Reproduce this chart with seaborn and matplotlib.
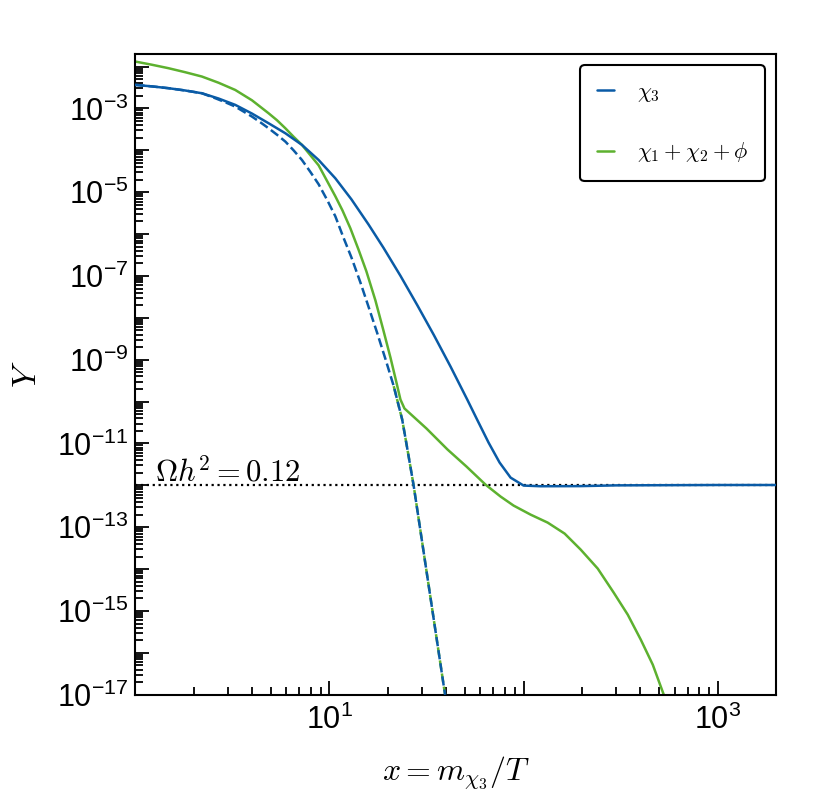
import numpy as np
import matplotlib
matplotlib.use("Agg")
import matplotlib.pyplot as plt
import matplotlib.ticker as ticker
import seaborn as sns

# values (x = m_chi3 / T, Y)
chi3_x = [1.0, 1.216, 1.482, 1.806, 2.203, 2.684, 3.272, 3.99, 4.86, 5.93, 7.22, 8.80,
          10.73, 12.98, 15.89, 18.98, 23.23, 28.33, 34.50, 42.06, 51.30, 57.98, 66.07,
          75.29, 85.80, 100.1, 122.5, 197, 300, 1000, 2000]
chi3_y = [3.66e-3, 3.37e-3, 3.05e-3, 2.69e-3, 2.31e-3, 1.73e-3, 1.22e-3, 7.57e-4, 4.44e-4,
          2.56e-4, 1.35e-4, 5.89e-5, 2.15e-5, 6.78e-6, 1.71e-6, 4.74e-7, 1.01e-7, 2.03e-8,
          3.91e-9, 6.90e-10, 1.12e-10, 3.54e-11, 1.05e-11, 3.51e-12, 1.53e-12, 9.89e-13,
          9.53e-13, 9.6e-13, 1.0e-12, 1.02e-12, 1.02e-12]

chi3_eq_x = [1.0, 1.216, 1.482, 1.806, 2.203, 2.58, 2.906, 3.272, 3.99, 4.404, 4.86, 5.37,
             5.93, 6.54, 7.22, 7.97, 8.80, 9.76, 10.73, 11.80, 12.98, 14.44, 15.89, 17.61,
             19.44, 21.45, 23.71, 25.40, 27.20, 30.63, 34.50, 38.86, 39.46]
chi3_eq_y = [3.66e-3, 3.37e-3, 3.05e-3, 2.69e-3, 2.31e-3, 1.76e-3, 1.41e-3, 1.11e-3,
             6.41e-4, 4.69e-4, 3.37e-4, 2.36e-4, 1.62e-4, 1.0e-4, 5.89e-5, 3.08e-5, 1.55e-5,
             6.41e-6, 2.66e-6, 8.38e-7, 2.79e-7, 7.03e-8, 1.87e-8, 4.42e-9, 1.04e-9,
             2.34e-10, 3.74e-11, 6.08e-12, 9.53e-13, 2.44e-14, 6.21e-16, 1.58e-17, 1.0e-17]

rest_x = [1.0, 1.216, 1.482, 1.806, 2.203, 2.684, 3.272, 3.99, 4.86, 5.37, 5.93, 6.54,
          7.22, 8.80, 10.73, 11.67, 12.83, 14.11, 15.51, 17.26, 18.98, 20.63, 22.15, 23.23,
          24.36, 31.63, 40.60, 50.86, 63.74, 76.2, 88.9, 108.8, 133.2, 162.9, 197.1,
          241.2, 291.6, 344.4, 401.9, 463.5, 528.0]
rest_y = [1.32e-2, 1.109e-2, 9.16e-3, 7.35e-3, 5.79e-3, 4.12e-3, 2.77e-3, 1.57e-3,
          7.69e-4, 5.24e-4, 3.37e-4, 2.11e-4, 1.35e-4, 4.39e-5, 8.0e-6, 3.70e-6, 1.37e-6,
          4.33e-7, 1.29e-7, 2.61e-8, 5.01e-9, 1.13e-9, 2.86e-10, 1.12e-10, 6.86e-11,
          2.28e-11, 7.18e-12, 2.81e-12, 1.04e-12, 5.40e-13, 3.29e-13, 2.00e-13, 1.29e-13,
          7.05e-14, 2.92e-14, 1.03e-14, 2.74e-15, 8.17e-16, 2.07e-16, 5.21e-17, 1.0e-17]

# equilibrium tail of chi1+chi2+phi, lying under the chi3 one
rest_eq_x = [21.45, 23.71, 25.40, 27.20, 30.63, 34.50, 38.86, 39.46]
rest_eq_y = [2.34e-10, 3.74e-11, 6.08e-12, 9.53e-13, 2.44e-14, 6.21e-16, 1.58e-17, 1.0e-17]

relic_Y = 1e-12

blue = "#0a5ba6"
green = "#5db12f"

sns.set_style("ticks")
plt.rcParams['font.family'] = ['Liberation Sans', 'DejaVu Sans']
plt.rcParams['mathtext.fontset'] = 'cm'
for k in ["xtick.color", "ytick.color", "axes.labelcolor", "text.color", "axes.edgecolor"]:
    plt.rcParams[k] = "black"

fig, ax = plt.subplots(figsize=(8.3, 7.94), dpi=100)
fig.subplots_adjust(left=0.163, right=0.935, top=0.932, bottom=0.125)

ax.axhline(relic_Y, color="black", ls=":", lw=1.6, zorder=1)

sns.lineplot(x=rest_x, y=rest_y, ax=ax, color=green, lw=1.8, sort=False,
             estimator=None, label=r"$\chi_1+\chi_2+\phi$", zorder=2)
sns.lineplot(x=rest_eq_x, y=rest_eq_y, ax=ax, color=green, lw=1.8, ls="--",
             sort=False, estimator=None, zorder=2)
sns.lineplot(x=chi3_eq_x, y=chi3_eq_y, ax=ax, color=blue, lw=1.8, ls="--",
             sort=False, estimator=None, zorder=3)
sns.lineplot(x=chi3_x, y=chi3_y, ax=ax, color=blue, lw=1.8, sort=False,
             estimator=None, label=r"$\chi_3$", zorder=4)

ax.set_xscale("log")
ax.set_yscale("log")
ax.set_xlim(1, 2000)
ax.set_ylim(1e-17, 2e-2)


def odd_decades(v, pos):
    e = int(round(np.log10(v)))
    return r"$\mathdefault{10^{%d}}$" % e if e % 2 != 0 else ""


x_dec = range(0, 4)
y_dec = range(-17, -1)
ax.xaxis.set_major_locator(ticker.FixedLocator([10.0 ** e for e in x_dec]))
ax.yaxis.set_major_locator(ticker.FixedLocator([10.0 ** e for e in y_dec]))
ax.xaxis.set_minor_locator(ticker.FixedLocator([k * 10.0 ** e for e in x_dec for k in range(2, 10)]))
ax.yaxis.set_minor_locator(ticker.FixedLocator([k * 10.0 ** e for e in y_dec for k in range(2, 10)]))
ax.xaxis.set_major_formatter(ticker.FuncFormatter(odd_decades))
ax.yaxis.set_major_formatter(ticker.FuncFormatter(odd_decades))
ax.xaxis.set_minor_formatter(ticker.NullFormatter())
ax.yaxis.set_minor_formatter(ticker.NullFormatter())

ax.tick_params(which="both", direction="in", top=False, right=False, width=1.3,
               color="black", labelsize=22)
ax.tick_params(which="major", length=10)
ax.tick_params(which="minor", length=6)
ax.tick_params(axis="x", pad=7)
ax.tick_params(axis="y", pad=5)
for s in ax.spines.values():
    s.set_linewidth(1.5)
    s.set_color("black")

ax.set_xlabel(r"$x = m_{\chi_3}/T$", fontsize=23, labelpad=14)
ax.set_ylabel(r"$Y$", fontsize=24, labelpad=10)

ax.text(1.27, 1.25e-12, r"$\Omega h^2 = 0.12$", fontsize=22, va="baseline")

h, l = ax.get_legend_handles_labels()
leg = ax.legend(h[::-1], l[::-1], loc="upper right", fontsize=16, handlelength=0.77,
                handletextpad=1.04, labelspacing=1.65, borderpad=0.75, frameon=True,
                fancybox=True, framealpha=1)
leg.get_frame().set_edgecolor("black")
leg.get_frame().set_linewidth(1.5)

plt.savefig("out.png", dpi=100)
plt.close(fig)
